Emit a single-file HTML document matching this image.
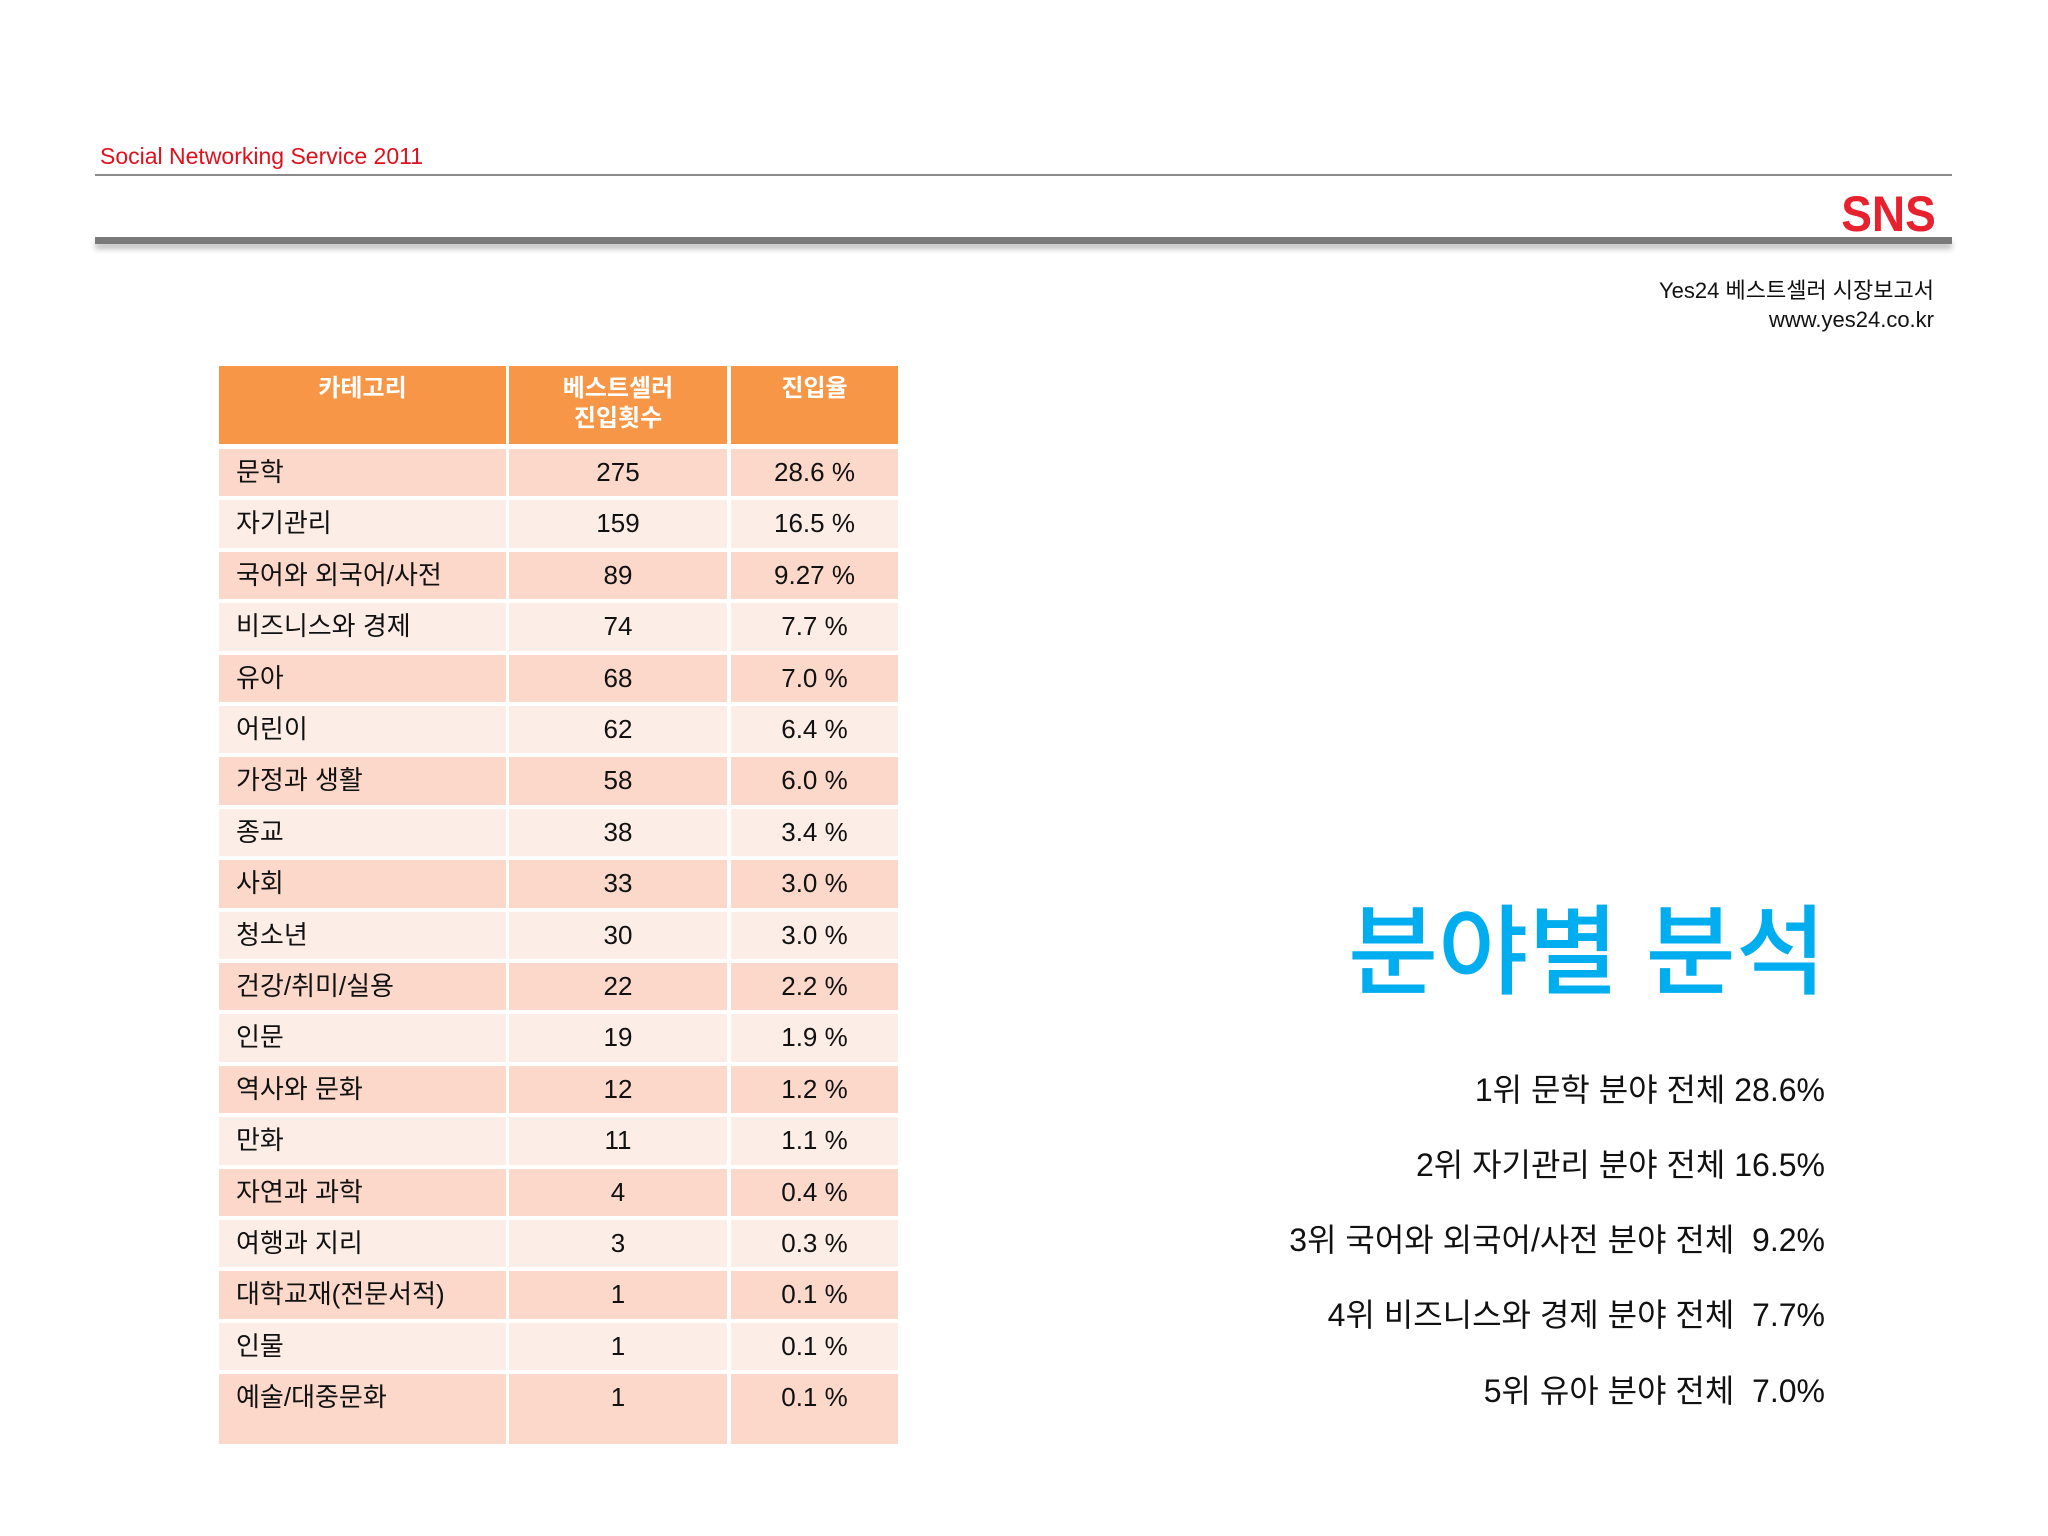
<!DOCTYPE html>
<html><head><meta charset="utf-8"><style>
body{margin:0;width:2048px;height:1536px;background:#fff;position:relative;overflow:hidden;font-family:"Liberation Sans","Noto Sans CJK KR",sans-serif;}
.a{position:absolute;white-space:nowrap;}
.cell{position:absolute;display:flex;align-items:flex-start;font-size:26px;color:#111;line-height:47px;}
.rank{position:absolute;right:223px;font-size:32px;color:#111;white-space:pre;line-height:1;}
</style></head><body>
<div class="a" style="left:100px;top:143px;font-size:23px;color:#e0101c;">Social Networking Service 2011</div>
<div class="a" style="left:95px;top:174px;width:1857px;height:2px;background:#8a8a8a;"></div>
<div class="a" style="right:112px;top:182px;font-size:50px;font-weight:bold;color:#e8212e;line-height:64px;transform:scaleX(0.92);transform-origin:right;">SNS</div>
<div class="a" style="left:95px;top:237px;width:1857px;height:7px;background:#7a7a7a;box-shadow:0 5px 6px rgba(0,0,0,0.25);"></div>
<div class="a" style="right:114px;top:276px;font-size:22px;color:#111;text-align:right;line-height:29px;">Yes24 베스트셀러 시장보고서<br>www.yes24.co.kr</div>
<div id="table"></div>
<div class="a" style="right:222px;top:892px;font-size:98px;font-weight:500;color:#00aeef;line-height:120px;">분야별 분석</div>
<div class="rank" style="top:1074px;">1위 문학 분야 전체 28.6%</div>
<div class="rank" style="top:1149px;">2위 자기관리 분야 전체 16.5%</div>
<div class="rank" style="top:1224px;">3위 국어와 외국어/사전 분야 전체  9.2%</div>
<div class="rank" style="top:1299px;">4위 비즈니스와 경제 분야 전체  7.7%</div>
<div class="rank" style="top:1375px;">5위 유아 분야 전체  7.0%</div>
<script>
const categories=["문학","자기관리","국어와 외국어/사전","비즈니스와 경제","유아","어린이","가정과 생활","종교","사회","청소년","건강/취미/실용","인문","역사와 문화","만화","자연과 과학","여행과 지리","대학교재(전문서적)","인물","예술/대중문화"];
const counts=[275,159,89,74,68,62,58,38,33,30,22,19,12,11,4,3,1,1,1];
const rates=["28.6 %","16.5 %","9.27 %","7.7 %","7.0 %","6.4 %","6.0 %","3.4 %","3.0 %","3.0 %","2.2 %","1.9 %","1.2 %","1.1 %","0.4 %","0.3 %","0.1 %","0.1 %","0.1 %"];
const cols=[[219,287],[509,218],[731,167]];
const t=document.getElementById('table');
function cell(x,y,w,h,bg,txt,align,extra){
  const d=document.createElement('div');
  d.className='cell';
  d.style.cssText+=`left:${x}px;top:${y}px;width:${w}px;height:${h}px;background:${bg};justify-content:${align};`+(extra||'');
  d.innerHTML=txt;
  t.appendChild(d);return d;
}
const hdr=["카테고리","베스트셀러<br>진입횟수","진입율"];
hdr.forEach((h,i)=>{
  const d=cell(cols[i][0],366,cols[i][1],78,'#f79646',h,'center','color:#fff;font-weight:bold;font-size:24px;text-align:center;line-height:30px;padding-top:8px;box-sizing:border-box;');
  
  
});
categories.forEach((c,r)=>{
  const y=449+r*51.4;
  const h=r===categories.length-1?70:47.4;
  const bg=r%2===0?'#fbd8ca':'#fdede7';
  const a=cell(cols[0][0],y,cols[0][1],h,bg,c,'flex-start','padding-left:17px;box-sizing:border-box;');
  
  
  const b=cell(cols[1][0],y,cols[1][1],h,bg,String(counts[r]),'center');
  
  
  const e=cell(cols[2][0],y,cols[2][1],h,bg,rates[r],'center');
  
  
});
</script>
</body></html>
